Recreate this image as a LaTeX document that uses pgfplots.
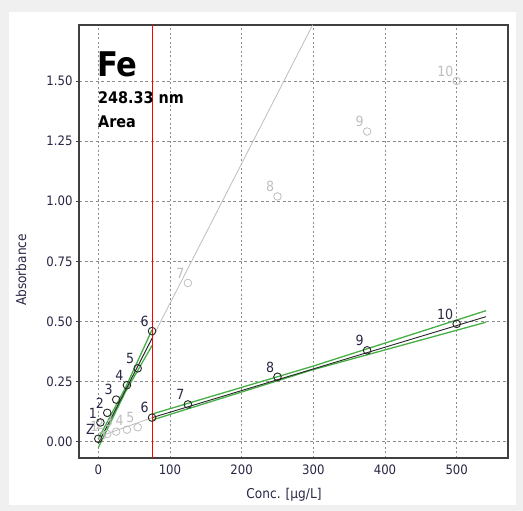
\documentclass[border=0pt]{standalone}
\usepackage{pgfplots}
\pgfplotsset{compat=1.18}
\usetikzlibrary{backgrounds}
\usepackage{fontspec}
\setmainfont{DejaVu Sans Condensed}
\definecolor{tickc}{RGB}{40,40,70}
\definecolor{fitgreen}{RGB}{70,175,70}
\definecolor{lgray}{RGB}{190,190,190}
\begin{document}
\begin{tikzpicture}[x=1pt,y=1pt]
\begin{axis}[
 at={(79pt,53pt)}, anchor=south west, scale only axis, width=429pt, height=433pt,
 xmin=-26.9, xmax=571.6, ymin=-0.0678, ymax=1.733,
 xtick={0,100,200,300,400,500}, ytick={0,0.25,0.5,0.75,1,1.25,1.5},
 /pgf/number format/assume math mode=true,
 yticklabel style={/pgf/number format/fixed, /pgf/number format/fixed zerofill, /pgf/number format/precision=2},
 ticklabel style={font=\fontsize{13}{14}\selectfont, text=tickc},
 xmajorgrids, ymajorgrids,
 x grid style={black!45, line width=0.8pt, dash pattern=on 2pt off 2.5pt},
 y grid style={black!45, line width=0.8pt, dash pattern=on 3pt off 2.5pt},
 axis line style={black!75, line width=1.3pt},
 tick align=outside, ytick pos=left, xtick pos=bottom,
 major tick length=3pt, ytick style={black!75, line width=1pt},
 xtick style={draw=none},
 every node near coord/.style={anchor=south east, inner sep=0pt, xshift=-3pt, yshift=4pt, font=\fontsize{14}{15}\selectfont},
]
% gray extrapolated line and low-range gray line
\addplot[lgray, line width=0.8pt] coordinates {(0,-0.007) (299,1.733)};
\addplot[lgray, line width=0.8pt] coordinates {(0,0.02) (75,0.10)};
% green confidence bands
\addplot[fitgreen, line width=1.3pt] coordinates {(0,0.012) (37.5,0.222) (75,0.465)};
\addplot[fitgreen, line width=1.3pt] coordinates {(0,-0.025) (37.5,0.205) (75,0.40)};
\addplot[fitgreen, line width=1.3pt] coordinates {(75,0.115) (300,0.3145) (541,0.545)};
\addplot[fitgreen, line width=1.3pt] coordinates {(75,0.09) (300,0.30) (541,0.497)};
% fit lines
\addplot[black!85, line width=0.9pt] coordinates {(0,-0.007) (75,0.43)};
\addplot[black!85, line width=0.9pt] coordinates {(75,0.10) (541,0.52)};
% gray points
\addplot[only marks, mark=o, mark size=3.8pt, lgray, mark options={line width=0.8pt},
  nodes near coords, point meta=explicit symbolic,
  nodes near coords style={text=lgray}] coordinates {
  (5,0.025)[1] (12.5,0.032)[2] (25,0.042)[3] (40,0.05)[4] (55,0.06)[5]
  (125,0.66)[7] (250,1.02)[8] (375,1.29)[9] (500,1.50)[10]};
% black points
\addplot[only marks, mark=o, mark size=3.8pt, black!85, mark options={line width=0.9pt},
  nodes near coords, point meta=explicit symbolic,
  nodes near coords style={text=tickc}] coordinates {
  (0,0.012)[Z] (3,0.08)[1] (12.5,0.12)[2] (25,0.175)[3] (40,0.235)[4] (55,0.305)[5] (75,0.46)[6]};
\addplot[only marks, mark=o, mark size=3.8pt, black!85, mark options={line width=0.9pt},
  nodes near coords, point meta=explicit symbolic,
  nodes near coords style={text=tickc}] coordinates {
  (75,0.10)[6] (125,0.155)[7] (250,0.27)[8] (375,0.38)[9] (500,0.49)[10]};
% red limit line
\addplot[red, line width=1pt] coordinates {(75,-0.0678) (75,1.733)};
\end{axis}
\node[anchor=base west, inner sep=0pt] at (97,434) {\fontsize{34}{36}\selectfont\bfseries Fe};
\node[anchor=base west, inner sep=0pt] at (98,407) {\fontsize{16}{17}\selectfont\bfseries 248.33 nm};
\node[anchor=base west, inner sep=0pt] at (98,383) {\fontsize{16}{17}\selectfont\bfseries Area};
\node[rotate=90, inner sep=0pt, text=tickc] at (21,241) {\fontsize{13.5}{15}\selectfont Absorbance};
\node[inner sep=0pt, text=tickc] at (284,16) {\fontsize{13.5}{15}\selectfont Conc. [µg/L]};
\begin{scope}[on background layer]
\fill[black!6] (0,0) rectangle (523,511);
\fill[white] (9,6) rectangle (516,499);
\end{scope}
\pgfresetboundingbox
\useasboundingbox (0,0) rectangle (523,511);
\end{tikzpicture}
\end{document}
